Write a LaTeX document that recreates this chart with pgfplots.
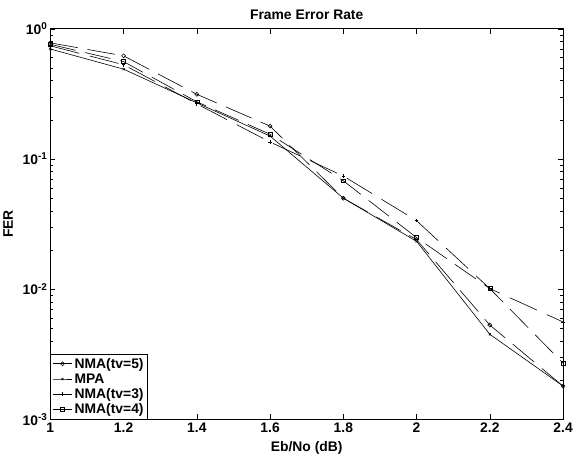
\documentclass[border=0pt]{standalone}
\usepackage{pgfplots}
\pgfplotsset{compat=1.18}
\usepackage{fontspec}
\setmainfont{Liberation Sans}

\begin{document}
\begin{tikzpicture}
  \begin{axis}[
      scale only axis, width=516bp, height=393bp,
      xmin=1, xmax=2.4, ymin=1e-3, ymax=1,
      ymode=log,
      xtick={1,1.2,1.4,1.6,1.8,2,2.2,2.4},
      ytick={1e-3,1e-2,1e-1,1},
      tick align=inside,
      major tick length=5bp, minor tick length=3bp,
      axis line style={line width=0.8pt},
      every tick/.style={black, line width=0.5pt},
      font=\fontsize{14}{16}\selectfont\bfseries,
      tick label style={font=\fontsize{14}{16}\selectfont\bfseries},
      /pgf/number format/assume math mode=true,
      yticklabel={\pgfmathparse{int(round(\tick/ln(10)))}10\raisebox{0.65ex}{\fontsize{10}{11}\selectfont\bfseries\pgfmathresult}},
      title={Frame Error Rate},
      xlabel={Eb/No (dB)}, ylabel={FER},
      xlabel style={yshift=-2bp},
      ylabel style={yshift=3bp},
      title style={yshift=0bp},
      legend style={at={(0,0)}, anchor=south west, draw=black, line width=0.8pt,
        font=\fontsize{14}{16}\selectfont\bfseries, inner sep=1.5bp, row sep=0bp},
      legend cell align=left,
      legend image code/.code={\draw[mark repeat=2, mark phase=2, #1] plot coordinates {(0bp,0bp) (10bp,0bp) (20bp,0bp)};},
      every axis plot/.append style={black, line width=0.6pt},
    ]
    % NMA(tv=5)
    \addplot[mark=o, mark size=2bp, dash pattern=on 28bp off 10bp, mark options={solid}] coordinates {
      (1,0.78) (1.2,0.62) (1.4,0.314) (1.6,0.179) (1.8,0.050) (2,0.024) (2.2,0.0053) (2.4,0.0018)
    };
    \addlegendentry{NMA(tv=5)}
    % MPA
    \addplot[mark=x, mark size=1.5bp] coordinates {
      (1,0.70) (1.2,0.49) (1.4,0.27) (1.6,0.150) (1.8,0.050) (2,0.0233) (2.2,0.0045) (2.4,0.0018)
    };
    \addlegendentry{MPA}
    % NMA(tv=3)
    \addplot[mark=+, mark size=1.8bp, dash pattern=on 30bp off 11bp, mark options={solid, line width=0.9pt}] coordinates {
      (1,0.74) (1.2,0.53) (1.4,0.265) (1.6,0.135) (1.8,0.074) (2,0.0336) (2.2,0.0101) (2.4,0.0056)
    };
    \addlegendentry{NMA(tv=3)}
    % NMA(tv=4)
    \addplot[mark=square, mark size=2bp, dash pattern=on 26bp off 10bp, mark options={solid}] coordinates {
      (1,0.76) (1.2,0.56) (1.4,0.275) (1.6,0.155) (1.8,0.068) (2,0.0249) (2.2,0.0101) (2.4,0.0027)
    };
    \addlegendentry{NMA(tv=4)}
  \end{axis}
  \path ([shift={(-50bp,-35bp)}]current axis.south west) rectangle ([shift={(10bp,29bp)}]current axis.north east);
\end{tikzpicture}
\end{document}
